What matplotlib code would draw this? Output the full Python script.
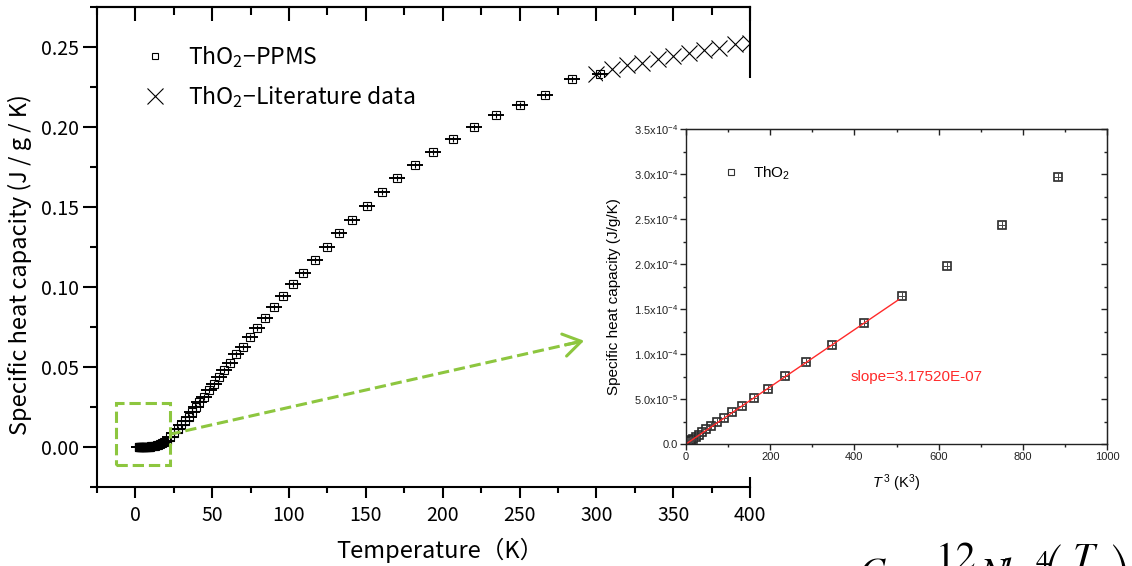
import matplotlib
matplotlib.use("Agg")
import matplotlib.pyplot as plt
from matplotlib.patches import Rectangle
from matplotlib.lines import Line2D
from matplotlib.ticker import MultipleLocator, FuncFormatter
import numpy as np

# PPMS measurement of ThO2 (T in K, Cp in J/g/K)
T_ppms = [2.1, 2.35, 2.6, 2.85, 3.1, 3.35, 3.62, 3.9, 4.18, 4.5, 4.79, 5.11, 5.45, 5.8,
          6.18, 6.59, 7.03, 7.51, 8.0, 8.53, 9.09, 9.6,
          10.2, 11.0, 11.9, 12.9, 13.9, 15.0, 16.2, 17.5, 18.9, 20.4, 22.2, 24.8, 27.6,
          29.8, 32.4, 34.8, 37.0, 39.6, 41.7, 44.8, 47.8, 50.9, 54.1, 57.6, 61.8, 65.4,
          70.0, 74.8, 79.4, 84.6, 90.0, 96.0, 102.5, 109.2, 116.7, 124.5, 132.4, 140.9,
          150.7, 160.4, 170.2, 182.0, 193.5, 206.5, 220.4, 234.8, 250.4, 266.3, 284.1, 302.2]
Cp_ppms = [0.28e-5, 0.40e-5, 0.55e-5, 0.75e-5, 1.00e-5, 1.30e-5, 1.63e-5, 2.00e-5, 2.40e-5,
           2.90e-5, 3.52e-5, 4.26e-5, 5.07e-5, 6.07e-5, 7.55e-5, 9.08e-5, 1.10e-4, 1.34e-4,
           1.64e-4, 1.98e-4, 2.43e-4, 2.97e-4,
           0.00040, 0.00050, 0.00070, 0.00090, 0.00120, 0.00150, 0.00190, 0.00250, 0.00310,
           0.00400, 0.00600, 0.00860, 0.01110, 0.01360, 0.01630, 0.01880, 0.02190, 0.02500,
           0.02830, 0.03140, 0.03560, 0.03960, 0.04380, 0.04790, 0.05270, 0.05790, 0.06270,
           0.06880, 0.07460, 0.08080, 0.08750, 0.09440, 0.10180, 0.10880, 0.11690, 0.12510,
           0.13380, 0.14190, 0.15060, 0.15940, 0.16800, 0.17630, 0.18440, 0.19230, 0.20000,
           0.20730, 0.21400, 0.22020, 0.23020, 0.23290]

# literature values
T_lit = [300, 310, 320, 330, 340, 350, 360, 370, 380, 390, 400]
Cp_lit = [0.2329, 0.2361, 0.2386, 0.2402, 0.2423, 0.2444, 0.2461, 0.2479, 0.2496, 0.2517, 0.2527]

# low temperature part used in the inset (first 22 PPMS points)
n_low = 22
slope = 3.17520e-07
fit_range = [0, 505]

plt.rcParams['font.family'] = ['Noto Sans CJK JP', 'DejaVu Sans']
plt.rcParams['mathtext.fontset'] = 'custom'
plt.rcParams['mathtext.rm'] = 'Liberation Sans'
plt.rcParams['mathtext.it'] = 'Liberation Sans:italic'

green = '#8DC63F'

fig = plt.figure(figsize=(11.32, 5.66), dpi=100)
ax = fig.add_axes([97 / 1132, 1 - 487 / 566, 653 / 1132, 480 / 566])
ax.set_zorder(1)

ax.plot(T_ppms, Cp_ppms, 's', ms=5.5, mfc='none', mec='k', mew=0.8)
ax.plot(T_ppms, Cp_ppms, '_', ms=12, mew=1.4, color='k')
ax.plot(T_ppms, Cp_ppms, '|', ms=5, mew=0.8, color='k')
ax.plot(T_lit, Cp_lit, 'x', ms=12, mew=0.8, color='k')

ax.set_xlim(-25, 400)
ax.set_ylim(-0.025, 0.275)
ax.xaxis.set_major_locator(MultipleLocator(50))
ax.xaxis.set_minor_locator(MultipleLocator(25))
ax.yaxis.set_major_locator(MultipleLocator(0.05))
ax.yaxis.set_minor_locator(MultipleLocator(0.025))
ax.yaxis.set_major_formatter(FuncFormatter(lambda v, p: '%.2f' % v))
ax.tick_params(axis='x', which='major', direction='out', length=8, width=1.5, labelsize=14, pad=5)
ax.tick_params(axis='x', which='minor', direction='out', length=4, width=1.5)
ax.tick_params(axis='y', which='major', direction='out', length=10, width=1.5, labelsize=14, pad=3)
ax.tick_params(axis='y', which='minor', direction='out', length=5, width=1.5)
for s in ax.spines.values():
    s.set_linewidth(1.5)

top = ax.secondary_xaxis('top')
top.xaxis.set_major_locator(MultipleLocator(50))
top.xaxis.set_minor_locator(MultipleLocator(25))
top.tick_params(which='major', direction='in', length=10, width=1.5, labeltop=False)
top.tick_params(which='minor', direction='in', length=6, width=1.5)
top.spines['top'].set_linewidth(1.5)

ax.set_xlabel('Temperature（K）', fontsize=17)
ax.xaxis.set_label_coords(0.525, -0.105)
ax.set_ylabel('Specific heat capacity (J / g / K)', fontsize=17)
ax.yaxis.set_label_coords(-0.1, 0.4625)

handles = [Line2D([], [], marker='s', ls='none', mfc='none', mec='k', ms=5, mew=0.8),
           Line2D([], [], marker='x', ls='none', color='k', ms=11, mew=0.8)]
ax.legend(handles, ['ThO$_\\mathregular{2}$−PPMS', 'ThO$_\\mathregular{2}$−Literature data'],
          loc='upper left', bbox_to_anchor=(0.04, 0.965), frameon=False, fontsize=16.5,
          handlelength=1.0, handletextpad=0.95, labelspacing=0.6)

# zoom box and arrow
ax.add_patch(Rectangle((-12.6, -0.0114), 34.8, 0.0391, fill=False, ec=green, ls='--', lw=2.2, zorder=4))
ax.plot([22.2, 290], [0.0079, 0.0660], '--', color=green, lw=2.2, zorder=4)
ax.annotate('', xy=(292, 0.0664), xytext=(280, 0.0639),
            arrowprops=dict(arrowstyle='->,head_length=0.7,head_width=0.45', color=green, lw=2.2,
                            mutation_scale=18, shrinkA=0, shrinkB=0), zorder=4)

# white area under the inset
fig.add_artist(Rectangle((603 / 1132, 1 - 477 / 566), 1 - 603 / 1132, 399 / 566,
                         transform=fig.transFigure, fc='white', ec='none', zorder=2))

# inset
ins = fig.add_axes([686 / 1132, 1 - 444 / 566, 421 / 1132, 315 / 566])
ins.set_zorder(3)
T_low = np.array(T_ppms[:n_low])
Cp_low = np.array(Cp_ppms[:n_low])
ins.plot(T_low ** 3, Cp_low, 's', ms=6, mfc='none', mec='#2a2a2a', mew=1.2)
ins.plot(T_low ** 3, Cp_low, '+', ms=6, mew=0.7, color='#444444')
fx = np.array(fit_range)
ins.plot(fx, slope * fx, color='#ff2a2a', lw=1.0)
ins.set_xlim(0, 1000)
ins.set_ylim(0, 3.5e-4)
ins.xaxis.set_major_locator(MultipleLocator(200))
ins.xaxis.set_minor_locator(MultipleLocator(100))
ins.yaxis.set_major_locator(MultipleLocator(5e-5))
ins.yaxis.set_minor_locator(MultipleLocator(2.5e-5))


def sci(v, pos):
    if abs(v) < 1e-12:
        return '0.0'
    if v < 0:
        return ''
    e = int(np.floor(np.log10(v) + 1e-9))
    return '%.1fx10$^{%d}$' % (v / 10 ** e, e)


ins.yaxis.set_major_formatter(FuncFormatter(sci))
ins.tick_params(which='major', direction='out', length=4, width=1.0, labelsize=8, colors='#222222', pad=2)
ins.tick_params(which='minor', direction='out', length=2.5, width=1.0, colors='#222222')
for lab in ins.get_xticklabels() + ins.get_yticklabels():
    lab.set_family('Liberation Sans')
for s in ins.spines.values():
    s.set_linewidth(1.0)
    s.set_color('#222222')

itop = ins.secondary_xaxis('top')
itop.xaxis.set_major_locator(MultipleLocator(200))
itop.xaxis.set_minor_locator(MultipleLocator(100))
itop.tick_params(which='major', direction='in', length=4, width=1.0, labeltop=False, colors='#222222')
itop.tick_params(which='minor', direction='in', length=2.5, width=1.0, colors='#222222')
iright = ins.secondary_yaxis('right')
iright.yaxis.set_major_locator(MultipleLocator(5e-5))
iright.yaxis.set_minor_locator(MultipleLocator(2.5e-5))
iright.tick_params(which='major', direction='in', length=4, width=1.0, labelright=False, colors='#222222')
iright.tick_params(which='minor', direction='in', length=2.5, width=1.0, colors='#222222')

ins.set_xlabel('$T^{\\,3}$ (K$^3$)', fontsize=10.5, family='Liberation Sans', labelpad=7)
ins.set_ylabel('Specific heat capacity (J/g/K)', fontsize=11, family='Liberation Sans')
ins.yaxis.set_label_coords(-0.155, 0.467)
ins.text(391, 0.748e-4, 'slope=3.17520E-07', color='#ff2a2a', fontsize=11,
         family='Liberation Sans', va='center')
ih = [Line2D([], [], marker='s', ls='none', mfc='none', mec='#333333', ms=5, mew=0.8)]
ins.legend(ih, ['ThO$_2$'], loc='upper left', bbox_to_anchor=(0.06, 0.93), frameon=False,
           prop={'family': 'Liberation Sans', 'size': 11}, handlelength=0.8, handletextpad=1.0)

# formula, mostly cut by the bottom edge
fig.text(858 / 1132, -0.033,
         r'$C_v = \dfrac{12}{5}N\!k\!\pi^4\!\!\left(\!\dfrac{T}{\Theta_D}\!\right)^3$',
         fontsize=28, math_fontfamily='stix', va='baseline', ha='left')

fig.savefig('out.png', dpi=100)
